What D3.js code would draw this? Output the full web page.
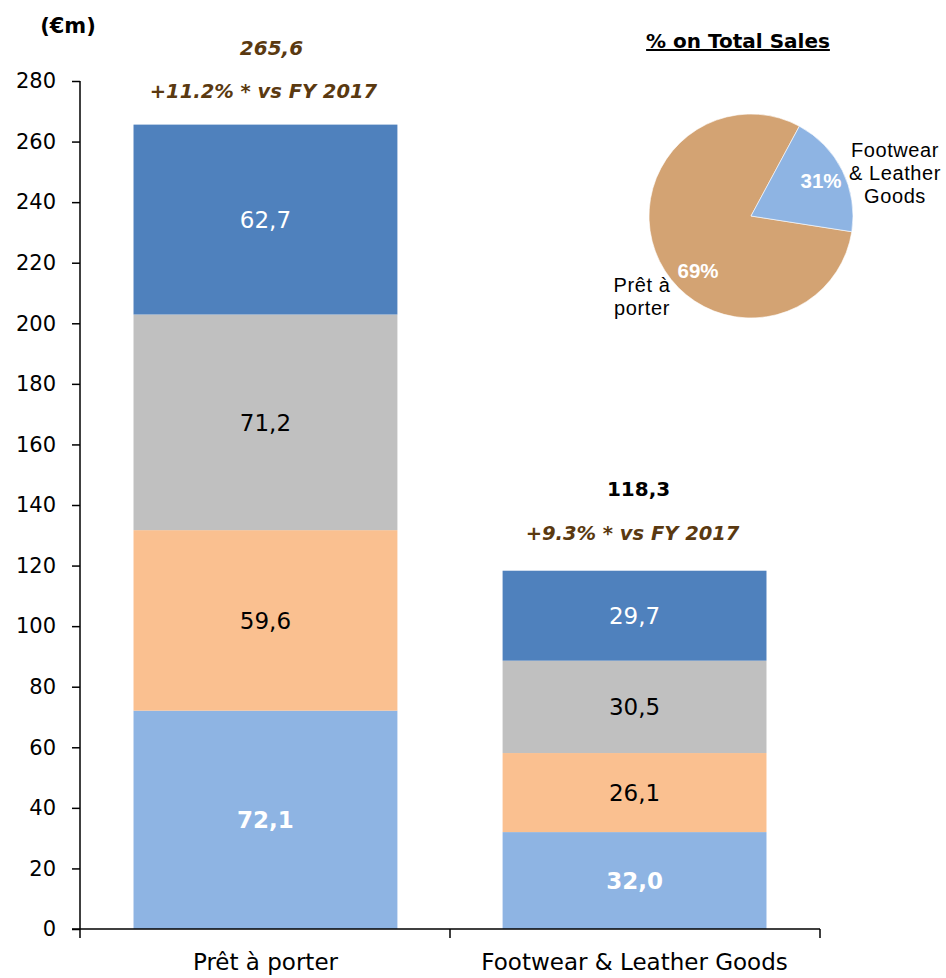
<!DOCTYPE html>
<html><head><meta charset="utf-8">
<script src="https://cdn.jsdelivr.net/npm/d3@7"></script>
<style>body{margin:0;background:#fff}svg{display:block}</style>
</head><body>
<script>
const categories = ["Prêt à porter", "Footwear & Leather Goods"];
const seriesNames = ["s1", "s2", "s3", "s4"];
const s1 = [72.1, 32.0];
const s2 = [59.6, 26.1];
const s3 = [71.2, 30.5];
const s4 = [62.7, 29.7];
const totals = ["265,6", "118,3"];
const growth = ["+11.2% * vs FY 2017", "+9.3% * vs FY 2017"];
const yTicks = [0,20,40,60,80,100,120,140,160,180,200,220,240,260,280];
const pieLabels = ["Prêt à porter", "Footwear & Leather Goods"];
const piePct = ["69%", "31%"];
const pieValues = [80.4, 19.6]; // slice sizes as drawn in the picture

const W = 946, H = 978;
const svg = d3.select("body").append("svg").attr("width", W).attr("height", H);
const font = "DejaVu Sans, sans-serif";
const arial = "Liberation Sans, Arial, sans-serif";

const x = d3.scaleBand().domain(categories).range([80, 820]).paddingInner(0.285).paddingOuter(0.145);
const y = d3.scaleLinear().domain([0, 280]).range([929, 81]);

const colors = ["#8EB4E3", "#FAC090", "#C0C0C0", "#4F81BD"];
const labelFill = ["#fff", "#000", "#000", "#fff"];
const labelWeight = ["bold", "normal", "normal", "normal"];

const table = categories.map((c, i) => ({cat: c, s1: s1[i], s2: s2[i], s3: s3[i], s4: s4[i]}));
const stack = d3.stack().keys(seriesNames)(table);
const fmt = v => v.toFixed(1).replace(".", ",");

stack.forEach((layer, li) => {
  const g = svg.append("g");
  g.selectAll("rect").data(layer).join("rect")
    .attr("x", d => x(d.data.cat)).attr("width", x.bandwidth())
    .attr("y", d => y(d[1])).attr("height", d => y(d[0]) - y(d[1]))
    .attr("fill", colors[li]);
  g.selectAll("text").data(layer).join("text")
    .attr("x", d => x(d.data.cat) + x.bandwidth()/2)
    .attr("y", d => (y(d[0]) + y(d[1]))/2)
    .attr("dy", "0.36em").attr("text-anchor", "middle")
    .attr("font-family", font).attr("font-size", 23)
    .attr("font-weight", labelWeight[li]).attr("fill", labelFill[li])
    .text(d => fmt(d[1]-d[0]));
});

// y axis
const yAxis = svg.append("g").attr("transform", "translate(80,0)")
  .call(d3.axisLeft(y).tickValues(yTicks).tickSize(8).tickPadding(16));
yAxis.selectAll("text").attr("font-family", font).attr("font-size", 21).attr("fill", "#000");
yAxis.select(".domain").attr("stroke", "#000").attr("stroke-width", 1.5).attr("d", "M0,81V929");
yAxis.selectAll(".tick line").attr("stroke", "#000").attr("stroke-width", 1.5);

// x axis
const xAxis = svg.append("g").attr("transform", "translate(0,929)")
  .call(d3.axisBottom(x).tickSize(0).tickPadding(24));
xAxis.select(".domain").attr("stroke", "#000").attr("stroke-width", 1.5).attr("d", "M72,0H820");
xAxis.selectAll("text").attr("font-family", font).attr("font-size", 23).attr("fill", "#000").attr("dy", "0.72em");
const bounds = [80, (x(categories[0]) + x.bandwidth() + x(categories[1]))/2, 820];
xAxis.selectAll(".sep").data(bounds).join("line").attr("class", "sep")
  .attr("x1", d => d).attr("x2", d => d).attr("y1", 0).attr("y2", 9)
  .attr("stroke", "#000").attr("stroke-width", 1.5);

// unit label
svg.append("text").attr("x", 68).attr("y", 33).attr("text-anchor", "middle")
  .attr("font-family", font).attr("font-size", 21).attr("font-weight", "bold").text("(€m)");

// totals
const totalColor = ["#5A3910", "#000"];
const totalY = [55, 496];
const growthY = [98, 540];
categories.forEach((c, i) => {
  const cx = x(c) + x.bandwidth()/2;
  svg.append("text").attr("x", cx + (i === 0 ? 6 : 4)).attr("y", totalY[i]).attr("text-anchor", "middle")
    .attr("font-family", font).attr("font-size", 20).attr("font-weight", "bold")
    .attr("font-style", i === 0 ? "italic" : "normal").attr("fill", totalColor[i]).text(totals[i]);
  svg.append("text").attr("x", cx - 2).attr("y", growthY[i]).attr("text-anchor", "middle")
    .attr("font-family", font).attr("font-size", 19.5).attr("font-weight", "bold")
    .attr("font-style", "italic").attr("fill", "#5A3910").text(growth[i]);
});

// pie
svg.append("text").attr("x", 738).attr("y", 48).attr("text-anchor", "middle")
  .attr("font-family", font).attr("font-size", 20).attr("font-weight", "bold")
  .attr("text-decoration", "underline").text("% on Total Sales");

const pcx = 751, pcy = 216, pr = 102;
const blueStart = 28.3 * Math.PI / 180;
const pie = d3.pie().sort(null).startAngle(blueStart - 2*Math.PI*pieValues[0]/100).endAngle(blueStart + 2*Math.PI*pieValues[1]/100);
const arcs = pie(pieValues);
const arc = d3.arc().innerRadius(0).outerRadius(pr);
const pg = svg.append("g").attr("transform", `translate(${pcx},${pcy})`);
const pieColors = ["#D3A373", "#8EB4E3"];
pg.selectAll("path").data(arcs).join("path").attr("d", arc)
  .attr("fill", (d, i) => pieColors[i]).attr("stroke", "#fff").attr("stroke-width", 0.6);

const pctPos = [[698, 278], [821, 188]];
piePct.forEach((p, i) => {
  svg.append("text").attr("x", pctPos[i][0]).attr("y", pctPos[i][1]).attr("text-anchor", "middle")
    .attr("font-family", arial).attr("font-size", 20.5)
    .attr("font-weight", "bold").attr("fill", "#fff").text(p);
});
const pieLabelLines = [["Prêt à", "porter"], ["Footwear", "& Leather", "Goods"]];
const pieLabelPos = [[642, 292], [895, 157]];
pieLabelLines.forEach((lines, i) => {
  const t = svg.append("text").attr("text-anchor", "middle")
    .attr("font-family", arial).attr("font-size", 20).attr("letter-spacing", 0.6).attr("fill", "#000");
  lines.forEach((l, j) => t.append("tspan").attr("x", pieLabelPos[i][0]).attr("y", pieLabelPos[i][1] + j*23).text(l));
});
</script>
</body></html>
